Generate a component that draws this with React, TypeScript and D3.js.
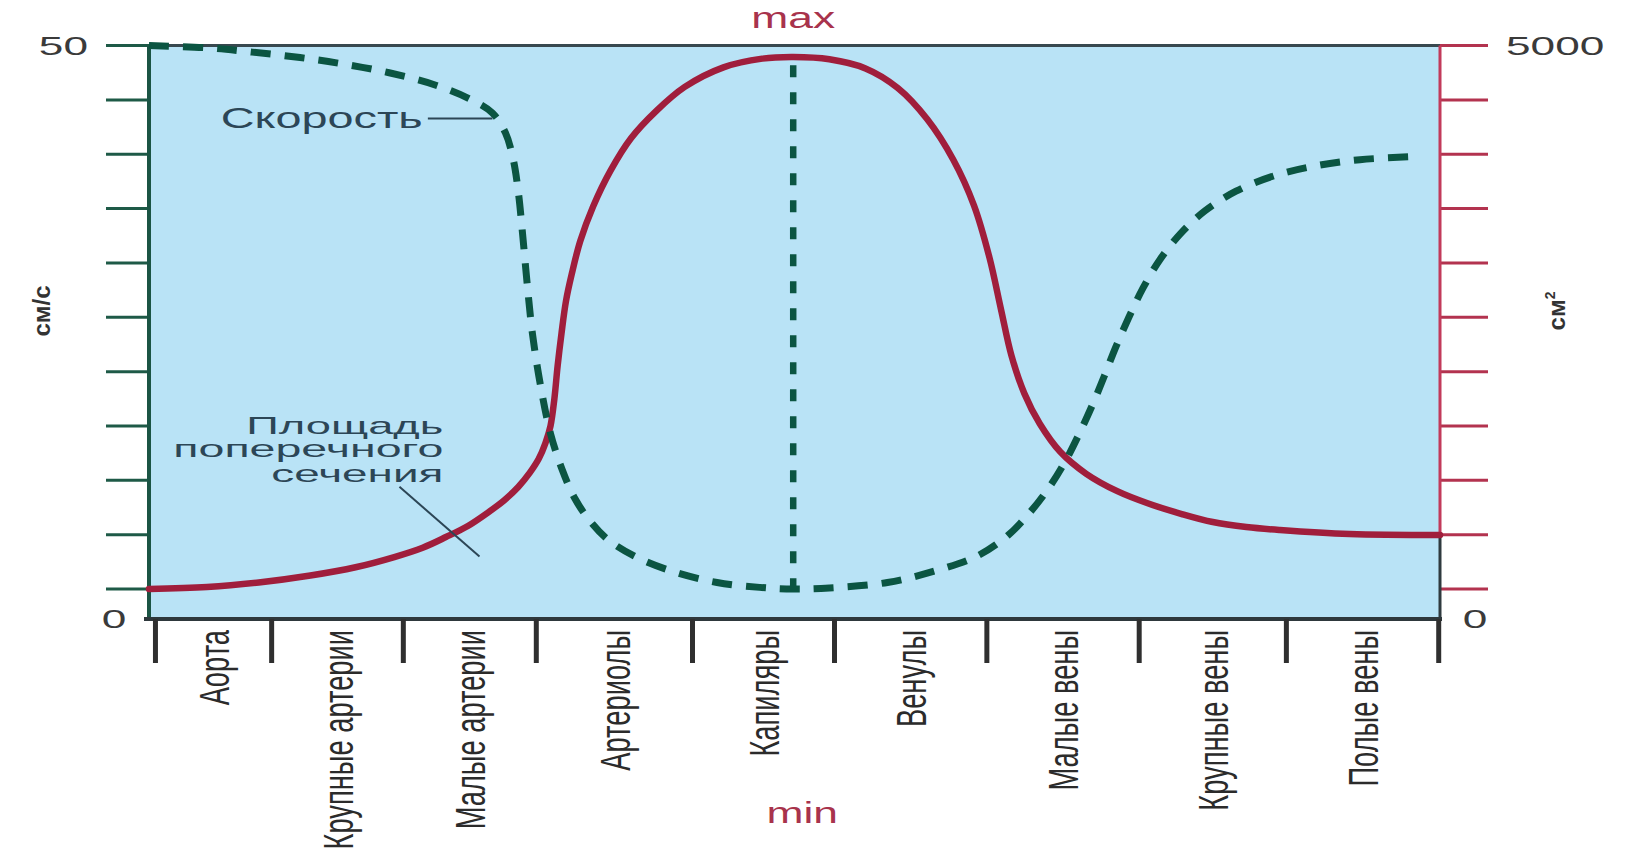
import React from "react";
import * as d3 from "d3";

// vessel segments along the circulation path
const categories = [
  "Аорта",
  "Крупные артерии",
  "Малые артерии",
  "Артериолы",
  "Капиляры",
  "Венулы",
  "Малые вены",
  "Крупные вены",
  "Полые вены",
];

// segment borders, in % of the path length
const boundaries = [0.5, 9.5, 19.7, 30.0, 42.1, 53.1, 64.9, 76.7, 88.1, 99.9];

// left axis cm/s, right axis cm²
const leftTicks = d3.range(0, 51, 5);
const rightTicks = d3.range(0, 5001, 500);
const leftLabels = ["0", "50"];
const rightLabels = ["0", "5000"];

// blood velocity, cm/s (dashed line)
const velocity: [number, number][] = [
  [0, 50], [4.5, 49.8], [8, 49.4], [11.7, 48.9], [15.1, 48.3], [18.6, 47.5],
  [22.1, 46.4], [25.0, 45.0], [26.6, 43.8], [27.6, 42.0], [28.2, 39.6],
  [28.6, 36.6], [28.95, 32.5], [29.3, 28.0], [29.7, 23.5], [30.3, 18.9],
  [31.1, 14.3], [32.0, 11.0], [33.0, 8.3], [34.2, 6.2], [35.6, 4.5],
  [37.8, 2.9], [40.6, 1.6], [44.0, 0.6], [47.3, 0.15], [49.9, 0],
  [52.7, 0.1], [57.2, 0.6], [61.0, 1.7], [64.1, 3.0], [66.5, 4.9],
  [68.2, 7.0], [69.7, 9.3], [71.0, 11.8], [72.1, 14.4], [73.1, 17.0],
  [74.0, 19.6], [74.9, 22.3], [75.9, 25.0], [77.0, 27.7], [78.3, 30.3],
  [79.9, 32.7], [81.8, 34.8], [84.2, 36.6], [87.1, 38.0], [90.2, 38.9],
  [93.8, 39.5], [98.2, 39.8],
];

// capillary marker (vertical dashes), cm/s
const capillary = { x: 49.9, top: 48.2 };

// total cross-section area, cm² (solid line)
const area: [number, number][] = [
  [0, 0], [4.5, 18], [8.5, 60], [12.5, 124], [16, 200], [19, 294],
  [21.2, 380], [23, 478], [24.7, 580], [26.2, 699], [27.5, 815], [28.6, 938],
  [29.5, 1070], [30.2, 1200], [30.7, 1340], [31.1, 1500], [31.4, 1750],
  [31.65, 2050], [31.95, 2350], [32.3, 2650], [32.75, 2900], [33.4, 3200],
  [34.4, 3520], [35.75, 3850], [37.35, 4150], [39.3, 4400], [41.5, 4620],
  [44.5, 4800], [47.5, 4880], [49.9, 4895], [52.7, 4874], [55.5, 4790],
  [58, 4610], [60.3, 4320], [62.3, 3950], [63.9, 3530], [65.1, 3050],
  [66.0, 2570], [66.8, 2150], [67.8, 1800], [69.0, 1520], [70.6, 1260],
  [72.6, 1060], [75, 900], [77.3, 791], [80, 690], [82.4, 616], [85, 570],
  [87.6, 543], [93.0, 506], [100, 497],
];

const W = 1626;
const H = 853;
const left = 149;
const right = 1440;
const top = 45.6;
const zeroY = 589;
const bottom = 619;

const RED = "#a01e3c";
const GREEN = "#0b5542";
const NOTE = "#2c4656";
const INK = "#2b2b2b";
const FONT = "'Liberation Sans', Arial, sans-serif";

const App: React.FC = () => {
  const x = d3.scaleLinear().domain([0, 100]).range([left, right]);
  const yL = d3.scaleLinear().domain([0, 50]).range([zeroY, top]);
  const yR = d3.scaleLinear().domain([0, 5000]).range([zeroY, top]);

  const vLine = d3
    .line<[number, number]>()
    .x((d) => x(d[0]))
    .y((d) => yL(d[1]))
    .curve(d3.curveCatmullRom.alpha(0.5));
  const aLine = d3
    .line<[number, number]>()
    .x((d) => x(d[0]))
    .y((d) => yR(d[1]))
    .curve(d3.curveCatmullRom.alpha(0.5));

  const mids = categories.map((_, i) => (boundaries[i] + boundaries[i + 1]) / 2);

  return (
    <svg
      width={W}
      height={H}
      style={{ position: "absolute", left: 0, top: 0, background: "#fff" }}
      fontFamily={FONT}
    >
      {/* plot background */}
      <rect x={left} y={top} width={right - left} height={bottom - top} fill="#b9e3f6" />

      {/* left ticks */}
      {leftTicks.map((t) => (
        <line key={"l" + t} x1={left - 43} x2={left} y1={yL(t)} y2={yL(t)} stroke="#1e5a47" strokeWidth={3} />
      ))}
      {/* right ticks */}
      {rightTicks.map((t) => (
        <line key={"r" + t} x1={right} x2={right + 48} y1={yR(t)} y2={yR(t)} stroke="#b3334f" strokeWidth={3} />
      ))}

      {/* frame */}
      <line x1={left} x2={right} y1={top} y2={top} stroke="#38484f" strokeWidth={3} />
      <line x1={right} x2={right} y1={top} y2={yR(500)} stroke="#c23a5a" strokeWidth={3} />
      <line x1={right} x2={right} y1={yR(500)} y2={bottom} stroke="#2f3a3f" strokeWidth={3} />
      <line x1={left} x2={left} y1={top} y2={bottom} stroke="#1b5444" strokeWidth={4} />
      <line x1={left - 5} x2={right + 2} y1={bottom} y2={bottom} stroke="#2e383c" strokeWidth={4} />

      {/* bottom ticks */}
      {boundaries.map((b, i) => (
        <line key={"b" + i} x1={x(b)} x2={x(b)} y1={bottom} y2={bottom + 44} stroke="#2f2f2f" strokeWidth={5} />
      ))}

      {/* category labels */}
      {categories.map((c, i) => (
        <text
          key={c}
          transform={`translate(${x(mids[i])},${bottom + 11}) rotate(-90) scale(0.65,1)`}
          textAnchor="end"
          dy="0.36em"
          fontSize={42}
          fill={INK}
        >
          {c}
        </text>
      ))}

      {/* cross-section area */}
      <path d={aLine(area) ?? ""} fill="none" stroke={RED} strokeWidth={6.5} strokeLinecap="round" />

      {/* velocity */}
      <path d={vLine(velocity) ?? ""} fill="none" stroke={GREEN} strokeWidth={7} strokeDasharray="20 14" />
      <line
        x1={x(capillary.x)}
        x2={x(capillary.x)}
        y1={yL(capillary.top)}
        y2={yL(0)}
        stroke={GREEN}
        strokeWidth={6.5}
        strokeDasharray="12 15"
      />

      {/* annotations */}
      <text x={x(21.2)} y={yL(42.4)} textAnchor="end" fontSize={29} fill={NOTE} textLength={202} lengthAdjust="spacingAndGlyphs">
        Скорость
      </text>
      <line x1={x(21.6)} x2={x(26.6)} y1={yL(43.3)} y2={yL(43.3)} stroke={NOTE} strokeWidth={2} />

      <text textAnchor="end" fontSize={24} fill={NOTE}>
        <tspan x={x(22.8)} y={yL(14.3)} textLength={197} lengthAdjust="spacingAndGlyphs">Площадь</tspan>
        <tspan x={x(22.8)} y={yL(12.1)} textLength={270} lengthAdjust="spacingAndGlyphs">поперечного</tspan>
        <tspan x={x(22.8)} y={yL(9.85)} textLength={172} lengthAdjust="spacingAndGlyphs">сечения</tspan>
      </text>
      <line x1={x(19.4)} x2={x(25.6)} y1={yL(9.4)} y2={yL(3.0)} stroke={NOTE} strokeWidth={2} />

      {/* axis end labels */}
      <g transform={`translate(${left - 61},${yL(50)}) scale(1.7,1)`}>
        <text textAnchor="end" dy="0.36em" fontSize={26} fill="#3a3a3a">{leftLabels[1]}</text>
      </g>
      <g transform={`translate(${left - 35},${bottom}) scale(1.7,1)`}>
        <text textAnchor="middle" dy="0.36em" fontSize={26} fill="#3a3a3a">{leftLabels[0]}</text>
      </g>
      <g transform={`translate(${right + 66},${yR(5000)}) scale(1.7,1)`}>
        <text textAnchor="start" dy="0.36em" fontSize={26} fill="#3a3a3a">{rightLabels[1]}</text>
      </g>
      <g transform={`translate(${right + 35},${bottom}) scale(1.7,1)`}>
        <text textAnchor="middle" dy="0.36em" fontSize={26} fill="#3a3a3a">{rightLabels[0]}</text>
      </g>

      {/* units */}
      <text transform={`translate(41,311) rotate(-90)`} textAnchor="middle" dy="0.36em" fontSize={24} fontWeight="bold" fill="#333">
        см/с
      </text>
      <text transform={`translate(1556,311) rotate(-90)`} textAnchor="middle" dy="0.36em" fontSize={24} fontWeight="bold" fill="#333">
        см<tspan fontSize={14} dy="-0.7em">2</tspan>
      </text>

      {/* max / min */}
      <g transform={`translate(${x(capillary.x)},28) scale(1.48,1)`}>
        <text textAnchor="middle" fontSize={30} fill="#a8334c">max</text>
      </g>
      <g transform={`translate(${x(capillary.x) + 9},823) scale(1.48,1)`}>
        <text textAnchor="middle" fontSize={30} fill="#a8334c">min</text>
      </g>
    </svg>
  );
};

export default App;
